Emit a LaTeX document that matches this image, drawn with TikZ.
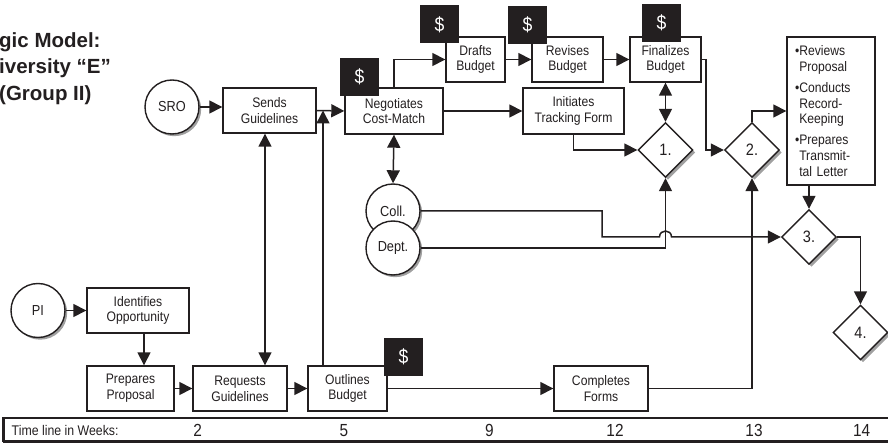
\documentclass[tikz,border=0pt]{standalone}
\usepackage{fontspec}
\setmainfont[FakeStretch=0.88]{Liberation Sans}
\newfontfamily\titlefont{Liberation Sans}
\usetikzlibrary{arrows.meta,shapes.geometric,shadows}
\definecolor{ink}{HTML}{231F20}
\definecolor{shade}{HTML}{A0A0A0}
\begin{document}
\begin{tikzpicture}[x=1pt,y=-1pt,
  box/.style={draw=ink, fill=white, line width=1.4pt, align=center, inner sep=0pt,
    font=\fontsize{13.8}{15.7}\selectfont, text=ink},
  dollar/.style={fill=ink, text=white, minimum width=39pt, minimum height=38pt,
    inner sep=0pt, font=\fontsize{20}{20}\selectfont},
  circ/.style={circle, draw=ink, fill=white, line width=1.4pt, inner sep=0pt,
    minimum size=54pt, font=\fontsize{14.5}{14.5}\selectfont, text=ink,
    drop shadow={shadow xshift=2.2pt, shadow yshift=-2.2pt, fill=shade, opacity=1}},
  dia/.style={diamond, draw=ink, fill=white, line width=1.4pt, inner sep=0pt,
    minimum width=55pt, minimum height=55pt, font=\fontsize{16.5}{16.5}\selectfont, text=ink,
    drop shadow={shadow xshift=2.4pt, shadow yshift=-2.4pt, fill=shade, opacity=1}},
  ln/.style={draw=ink, line width=1.5pt},
  arr/.style={ln, -{Triangle[length=13pt,width=13pt]}},
  darr/.style={ln, {Triangle[length=13pt,width=13pt]}-{Triangle[length=13pt,width=13pt]}},
  tlnum/.style={text=ink, inner sep=0pt, font=\fontsize{17.5}{17.5}\selectfont}
]
\useasboundingbox (0,0) rectangle (888,443);
\clip (0,0) rectangle (888,443);

% title
\node[anchor=north west, inner sep=0pt, align=left, text=ink,
  font=\titlefont\fontsize{20.5}{26.7}\selectfont\bfseries] (title) at (-1,32)
  {gic Model:\\iversity “E”\\(Group II)};

% boxes
\node[box, minimum width=93pt, minimum height=45pt] (sends) at (269.5,110.5) {Sends\\Guidelines};
\node[box, minimum width=98pt, minimum height=46pt] (nego) at (394,111) {Negotiates\\Cost-Match};
\node[box, minimum width=59pt, minimum height=45pt] (drafts) at (475.5,59.5) {Drafts\\Budget};
\node[box, minimum width=71pt, minimum height=45pt] (revises) at (567.5,59.5) {Revises\\Budget};
\node[box, minimum width=71pt, minimum height=45pt] (final) at (665.5,59.5) {Finalizes\\Budget};
\node[box, minimum width=101pt, minimum height=46pt] (init) at (573.5,111) {Initiates\\Tracking Form};
\node[box, minimum width=88pt, minimum height=148pt, text width=72pt, inner xsep=8pt,
  align=left] (reviews) at (831,111)
  {\textbullet Reviews\\\hphantom{\textbullet}Proposal\\[5.5pt]
   \textbullet Conducts\\\hphantom{\textbullet}Record-\\\hphantom{\textbullet}Keeping\\[5.5pt]
   \textbullet Prepares\\\hphantom{\textbullet}Transmit-\\\hphantom{\textbullet}tal Letter};
\node[box, minimum width=102pt, minimum height=45pt] (ident) at (138,310.5) {Identifies\\Opportunity};
\node[box, minimum width=87pt, minimum height=45pt] (prep) at (130.5,388.5) {Prepares\\Proposal};
\node[box, minimum width=94pt, minimum height=45pt] (req) at (240,388.5) {Requests\\Guidelines};
\node[box, minimum width=79pt, minimum height=45pt] (outl) at (347.5,388.5) {Outlines\\Budget};
\node[box, minimum width=94pt, minimum height=45pt] (compl) at (601,388.5) {Completes\\Forms};

% circles
\node[circ] (sro) at (172,107) {SRO};
\node[circ] (coll) at (393,211) {Coll.};
\node[circ] (dept) at (393,248) {Dept.};
\node[circ] (pi) at (38,310.5) {PI};

% diamonds
\node[dia] (d1) at (665.5,150) {1.};
\node[dia] (d2) at (752,150) {2.};
\node[dia] (d3) at (809,237) {3.};
\node[dia] (d4) at (860.5,332.5) {4.};

% helper coordinates
\coordinate (jx) at (323,110.5);
\coordinate (xsr) at (265,0);
\coordinate (xip) at (144,0);
\coordinate (fx) at (706,0);
\coordinate (cx) at (602,0);
\coordinate (hopL) at (659.5,237);
\coordinate (hopR) at (671.5,237);

% connectors
\draw[arr] (sro.east) -- (sro.east -| sends.west);
\draw[arr] (sends.east) -- (nego.west);
\draw[arr] (outl.north -| jx) -- (jx);
\draw[darr] (sends.south -| xsr) -- (req.north -| xsr);
\draw[arr] (nego.north) |- (drafts.west);
\draw[arr] (drafts.east) -- (revises.west);
\draw[arr] (revises.east) -- (final.west);
\draw[arr] (nego.east) -- (init.west);
\draw[arr] (init.south) |- (d1.west);
\draw[darr] (final.south) -- (d1.north);
\draw[arr] (final.east) -- (final.east -| fx) |- (d2.west);
\draw[arr] (d2.north) |- (reviews.west);
\draw[arr] (reviews.south -| d3.north) -- (d3.north);
\draw[arr] (d3.east) -| (d4.north);
\draw[darr] (nego.south) -- (coll.north);
\draw[arr] (dept.east) -| (d1.south);
\draw[arr] (coll.east) -- (coll.east -| cx) |- (hopL)
  .. controls +(0,-8) and +(0,-8) .. (hopR) -- (d3.west);
\draw[arr] (compl.east) -| (d2.south);
\draw[arr] (pi.east) -- (ident.west);
\draw[arr] (ident.south -| xip) -- (prep.north -| xip);
\draw[arr] (prep.east) -- (req.west);
\draw[arr] (req.east) -- (outl.west);
\draw[arr] (outl.east) -- (compl.west);

% dollar tags
\node[dollar] (dnego) at (359.5,77) {\$};
\node[dollar] (ddrafts) at (439.5,24.5) {\$};
\node[dollar] (drevises) at (527.5,25) {\$};
\node[dollar] (dfinal) at (661.5,23) {\$};
\node[dollar] (doutl) at (403.5,357) {\$};

% time line
\node[draw=ink, line width=1.2pt, minimum width=886pt, minimum height=23pt, inner sep=0pt]
  (tl) at (447,429.5) {};
\draw[ln, line width=2.2pt] (tl.south west) -- (tl.south east);
\draw[ln, line width=2pt] (tl.south west) -- (tl.north west);
\node[anchor=west, inner sep=0pt, text=ink, font=\fontsize{14}{14}\selectfont]
  (tllabel) at (11.5,430) {Time line in Weeks:};
\node[tlnum] (w2) at (197.7,430.5) {2};
\node[tlnum] (w5) at (344,430.5) {5};
\node[tlnum] (w9) at (489.3,430.5) {9};
\node[tlnum] (w12) at (615,430.5) {12};
\node[tlnum] (w13) at (754,430.5) {13};
\node[tlnum] (w14) at (861.7,430.5) {14};
\end{tikzpicture}
\end{document}
